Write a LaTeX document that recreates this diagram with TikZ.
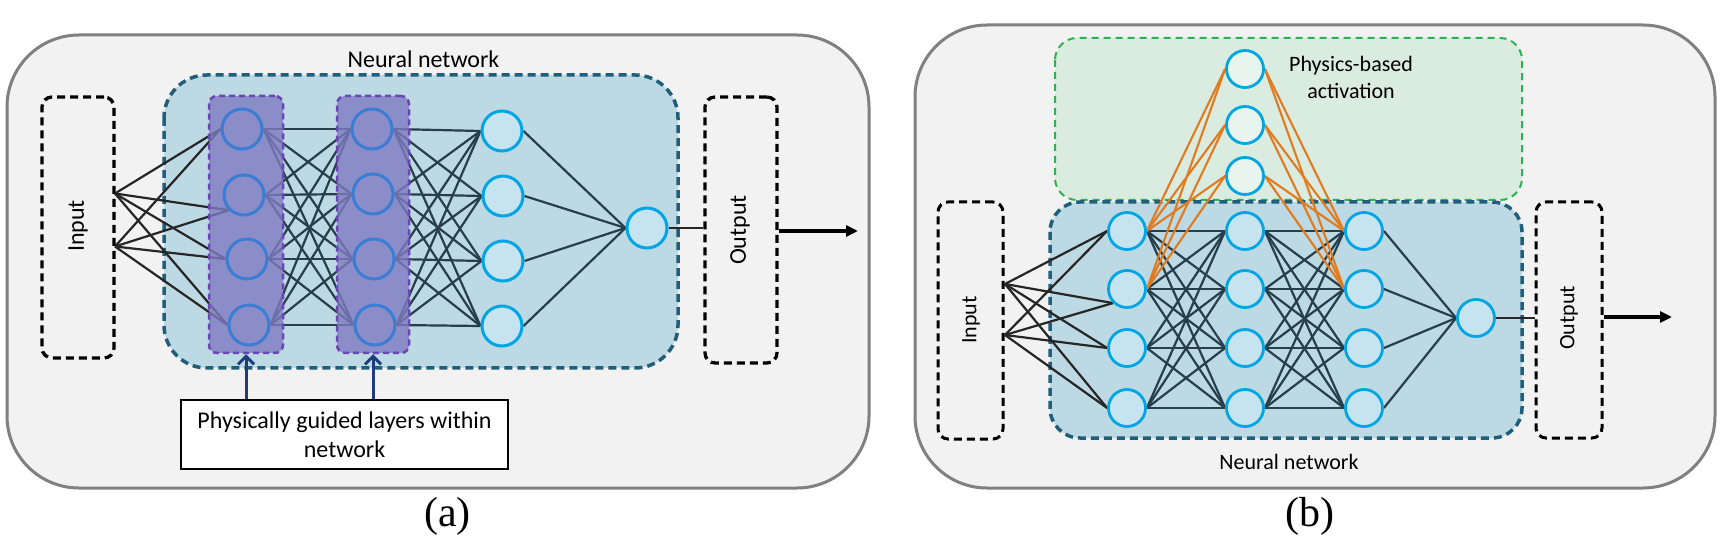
\documentclass[tikz,border=0pt]{standalone}
\usepackage{fontspec}
\setmainfont{Carlito}
\newfontfamily\timesfont{Liberation Serif}
\usetikzlibrary{arrows.meta}
\pgfdeclarelayer{bg}
\pgfdeclarelayer{lines}
\pgfdeclarelayer{mid}
\pgfsetlayers{bg,lines,mid,main}
\definecolor{outerfill}{HTML}{F2F2F2}
\definecolor{outerstroke}{HTML}{808080}
\definecolor{nnfill}{HTML}{BDD9E3}
\definecolor{nnstroke}{HTML}{1F5F7B}
\definecolor{cyanfill}{HTML}{C6E4EF}
\definecolor{cyanstroke}{HTML}{00A5E3}
\definecolor{greenfill}{HTML}{DAEBE0}
\definecolor{greenstroke}{HTML}{2BB34F}
\definecolor{gnodefill}{HTML}{E8F5EE}
\definecolor{orangeline}{HTML}{E07B1F}
\definecolor{darkline}{HTML}{263F4A}
\definecolor{navyarrow}{HTML}{1F3C7D}
\definecolor{purplefill}{HTML}{7E7BC0}
\definecolor{purplestroke}{HTML}{6A45B5}
\definecolor{pnodestroke}{HTML}{3B7DD4}
\begin{document}
\begin{tikzpicture}[x=1pt,y=-1pt,
  outerbox/.style={draw=outerstroke,fill=outerfill,line width=3pt,rounded corners=72pt},
  nnbox/.style={draw=nnstroke,fill=nnfill,line width=3.5pt,dash pattern=on 8pt off 5pt},
  iobox/.style={draw=black,line width=3.3pt,dash pattern=on 8pt off 5pt,rounded corners=10pt,inner sep=0pt},
  pbox/.style={draw=purplestroke,fill=purplefill,fill opacity=0.8,line width=2.5pt,dash pattern=on 6pt off 4pt,rounded corners=8pt,inner sep=0pt},
  neuron/.style={circle,minimum size=40pt,inner sep=0pt,line width=3pt,draw=cyanstroke,fill=cyanfill},
  pneuron/.style={circle,minimum size=40pt,inner sep=0pt,line width=3pt,draw=pnodestroke},
  bneuron/.style={circle,minimum size=37pt,inner sep=0pt,line width=2.8pt,draw=cyanstroke,fill=cyanfill},
  gneuron/.style={circle,minimum size=37pt,inner sep=0pt,line width=2.8pt,draw=cyanstroke,fill=gnodefill},
  conn/.style={line width=2.2pt,draw=darkline},
  inconn/.style={line width=2.2pt,draw=black!85},
  orconn/.style={line width=2.1pt,draw=orangeline},
  fa/.style={font=\fontsize{24}{29}\selectfont},
  fb/.style={font=\fontsize{22}{27}\selectfont},
  caplabel/.style={font=\timesfont\fontsize{42}{48}\selectfont,anchor=base}
]
\useasboundingbox (0,0) rectangle (1725,537);

% ================= Panel (a) =================
\begin{pgfonlayer}{bg}
  \draw[outerbox] (7,35) rectangle (869,488);
  \draw[nnbox,rounded corners=43pt] (164,75) rectangle (678,368);
\end{pgfonlayer}
\begin{pgfonlayer}{mid}
  \node[pbox,minimum width=74pt,minimum height=257pt] (P1) at (246,224.5) {};
  \node[pbox,minimum width=72pt,minimum height=257pt] (P2) at (373,224.5) {};
\end{pgfonlayer}

\node[iobox,minimum width=72pt,minimum height=261pt] (inA) at (78,227.5) {};
\node[iobox,minimum width=72pt,minimum height=266pt] (outA) at (741,230) {};
\node[fa,rotate=90] (inAlab) at (78,226) {Input};
\node[fa,rotate=90] (outAlab) at (740,230) {Output};
\node[fa] (nnAlab) at (423.5,59) {Neural network};

\coordinate (JA1) at (115,193.5);
\coordinate (JA2) at (115,246.5);

\node[pneuron] (A1) at (242,129) {};
\node[pneuron] (A2) at (244,195) {};
\node[pneuron] (A3) at (247,259) {};
\node[pneuron] (A4) at (249,325) {};
\node[pneuron] (B1) at (372,129) {};
\node[pneuron] (B2) at (373,194) {};
\node[pneuron] (B3) at (374,259) {};
\node[pneuron] (B4) at (375,325) {};
\node[neuron] (C1) at (502,131) {};
\node[neuron] (C2) at (503,196) {};
\node[neuron] (C3) at (503,261) {};
\node[neuron] (C4) at (502,326) {};
\node[neuron] (OA) at (647,228) {};

\begin{pgfonlayer}{lines}
  \foreach \s in {JA1,JA2}{
    \draw[inconn] (\s) -- (A1.west);
    \draw[inconn] (\s) -- (A2.225);
    \draw[inconn] (\s) -- (A3.west);
    \draw[inconn] (\s) -- (A4.west);
  }
  \foreach \i in {1,...,4}{
    \foreach \j in {1,...,4}{
      \draw[conn] (A\i.east) -- (B\j.west);
      \draw[conn] (B\i.east) -- (C\j.west);
    }
    \draw[conn] (C\i.east) -- (OA.west);
  }
  \draw[line width=2pt,black!85] (OA.east) -- (OA.east -| outA.west);
\end{pgfonlayer}

\coordinate (endA) at (858,231);
\draw[line width=3.5pt,-{Triangle[length=12pt,width=11pt]}] (outA.east |- endA) -- (endA);

\node[draw=black,line width=2pt,fill=white,minimum width=327pt,minimum height=69pt,inner sep=0pt,align=center,fa] (tb) at (344.5,434.5) {Physically guided layers within\\network};
\draw[navyarrow,line width=3pt,-{Straight Barb[length=8pt,width=16pt,line width=3pt]}] (P1.south |- tb.north) -- (P1.south);
\draw[navyarrow,line width=3pt,-{Straight Barb[length=8pt,width=16pt,line width=3pt]}] (P2.south |- tb.north) -- (P2.south);

\node[caplabel] (capA) at (447.5,526) {(a)};

% ================= Panel (b) =================
\begin{pgfonlayer}{bg}
  \draw[outerbox] (915,25) rectangle (1715,488);
  \draw[draw=greenstroke,fill=greenfill,line width=2pt,dash pattern=on 7pt off 5pt,rounded corners=22pt] (1055,38) rectangle (1522,200);
  \draw[nnbox,rounded corners=30pt] (1050,202) rectangle (1522,438);
\end{pgfonlayer}

\node[iobox,line width=3pt,minimum width=65pt,minimum height=237pt] (inB) at (970.5,320.5) {};
\node[iobox,line width=3pt,minimum width=66pt,minimum height=236pt] (outB) at (1569,320) {};
\node[fb,rotate=90] (inBlab) at (971,320) {Input};
\node[fb,rotate=90] (outBlab) at (1569,318) {Output};
\node[fb] (nnBlab) at (1289,462) {Neural network};
\node[fb,align=center] (physlab) at (1351,77.5) {Physics-based\\activation};

\coordinate (JB1) at (1005,284);
\coordinate (JB2) at (1005,335);

\node[bneuron] (K1) at (1127,231) {};
\node[bneuron] (K2) at (1127,289) {};
\node[bneuron] (K3) at (1127,348) {};
\node[bneuron] (K4) at (1127,408) {};
\node[bneuron] (L1) at (1245,231) {};
\node[bneuron] (L2) at (1245,289) {};
\node[bneuron] (L3) at (1245,348) {};
\node[bneuron] (L4) at (1245,408) {};
\node[bneuron] (M1) at (1364,231) {};
\node[bneuron] (M2) at (1364,289) {};
\node[bneuron] (M3) at (1364,348) {};
\node[bneuron] (M4) at (1364,408) {};
\node[bneuron] (OB) at (1476,318) {};
\node[gneuron] (G1) at (1245,69) {};
\node[gneuron] (G2) at (1245,125) {};
\node[gneuron] (G3) at (1245,176) {};

\begin{pgfonlayer}{lines}
  \foreach \s in {JB1,JB2}{
    \draw[inconn] (\s) -- (K1.west);
    \draw[inconn] (\s) -- (K2.225);
    \draw[inconn] (\s) -- (K3.west);
    \draw[inconn] (\s) -- (K4.west);
  }
  \foreach \i in {1,...,4}{
    \foreach \j in {1,...,4}{
      \draw[conn] (K\i.east) -- (L\j.west);
      \draw[conn] (L\i.east) -- (M\j.west);
    }
    \draw[conn] (M\i.east) -- (OB.west);
  }
  \foreach \g in {1,2,3}{
    \draw[orconn] (K1.east) -- (G\g.west);
    \draw[orconn] (K2.east) -- (G\g.west);
    \draw[orconn] (G\g.east) -- (M1.west);
    \draw[orconn] (G\g.east) -- (M2.west);
  }
  \draw[line width=2pt,black!85] (OB.east) -- (OB.east -| outB.west);
\end{pgfonlayer}

\coordinate (endB) at (1672,317);
\draw[line width=3.5pt,-{Triangle[length=12pt,width=11pt]}] (outB.east |- endB) -- (endB);

\node[caplabel] (capB) at (1310,526) {(b)};
\end{tikzpicture}
\end{document}
